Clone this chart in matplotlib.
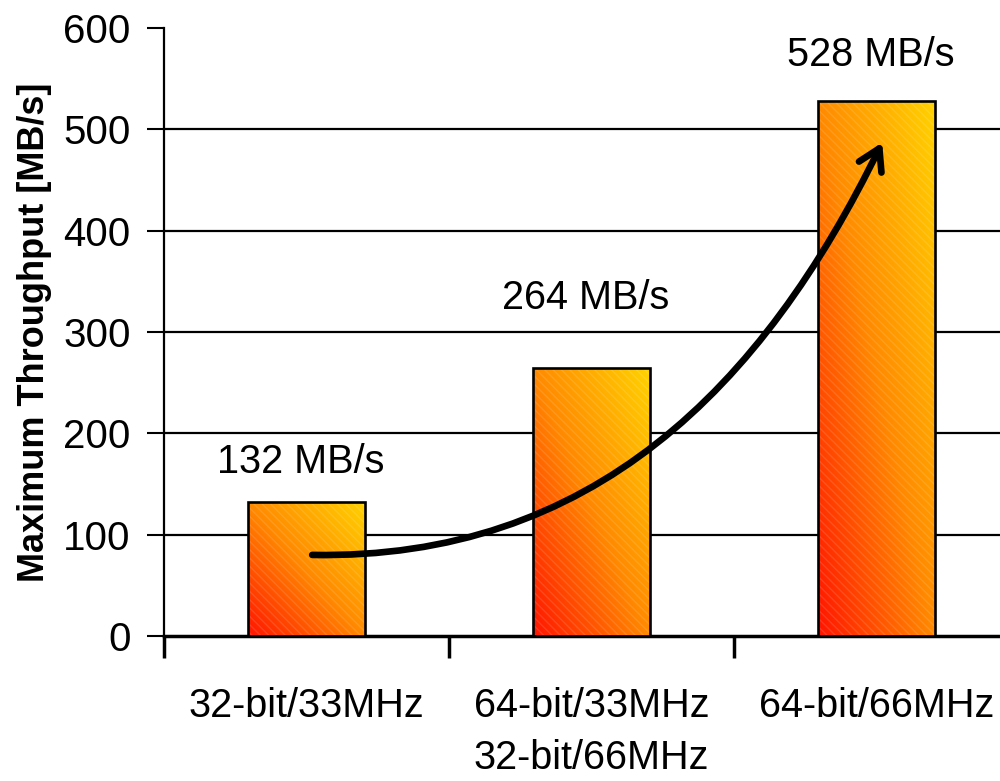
import matplotlib
matplotlib.use("Agg")
import matplotlib.pyplot as plt
import numpy as np
from matplotlib.colors import LinearSegmentedColormap
from matplotlib.patches import Rectangle, FancyArrowPatch
from matplotlib.path import Path

plt.rcParams['font.family'] = ['Liberation Sans', 'DejaVu Sans']

categories = ["32-bit/33MHz", "64-bit/33MHz\n32-bit/66MHz", "64-bit/66MHz"]
values = [132, 264, 528]
value_labels = ["132 MB/s", "264 MB/s", "528 MB/s"]
y_ticks = [0, 100, 200, 300, 400, 500, 600]
y_label = "Maximum Throughput [MB/s]"

fig = plt.figure(figsize=(10, 7.81), dpi=100)
ax = fig.add_axes([0.164, 0.1857, 0.855, 0.7784])

cmap = LinearSegmentedColormap.from_list("grad", ["#FF1400", "#FF8A00", "#FFD200"])
bar_w = 0.41
x = np.arange(len(values))
bars = ax.bar(x, values, width=bar_w, facecolor='none', edgecolor='black',
              linewidth=1.9, zorder=4)

nx, ny = 200, 400
u = np.linspace(0, 1, nx)[None, :]
v = np.linspace(0, 1, ny)[:, None]
grad = (u + v) / 2.0
for b in bars:
    x0, w, h = b.get_x(), b.get_width(), b.get_height()
    im = ax.imshow(grad, cmap=cmap, origin='lower', extent=(x0, x0 + w, 0, h),
                   aspect='auto', zorder=3, interpolation='bilinear')
    clip = Rectangle((x0, 0), w, h, transform=ax.transData)
    im.set_clip_path(clip)
    ax.add_patch(Rectangle((x0, 0), w, h, facecolor='none', edgecolor=(1, 1, 1, 0.12),
                           hatch='\\\\\\\\', linewidth=0, zorder=3.5))

label_offsets = [40, 70, 45]
for xi, val, lab, off in zip(x, values, value_labels, label_offsets):
    ax.text(xi - 0.02, val + off, lab, ha='center', va='center', fontsize=28.5, zorder=6)

# curved arrow
verts = [(0.02, 80), (1.0, 75), (1.6, 245), (2.02, 487)]
codes = [Path.MOVETO, Path.CURVE4, Path.CURVE4, Path.CURVE4]
arrow = FancyArrowPatch(path=Path(verts, codes), arrowstyle='->,head_length=15,head_width=9',
                        linewidth=4.8, color='black', zorder=7, capstyle='round',
                        joinstyle='round', shrinkA=0, shrinkB=0)
ax.add_patch(arrow)

ax.set_xlim(-0.5, 2.5)
ax.set_ylim(0, 600)
ax.set_yticks(y_ticks)
ax.tick_params(axis='y', labelsize=29, length=12, width=1.5, direction='out', pad=12)
for yv in y_ticks[1:-1]:
    ax.axhline(yv, color='black', linewidth=1.6, zorder=1)

ax.set_xticks(x)
ax.set_xticklabels(categories, fontsize=28.5, linespacing=1.45)
ax.tick_params(axis='x', length=0, pad=37)
ax.set_xticks([-0.5, 0.5, 1.5, 2.5], minor=True)
ax.tick_params(axis='x', which='minor', length=16, width=2.5, direction='out')
for lbl in ax.get_xticklabels():
    lbl.set_verticalalignment('top')

for s in ['top', 'right']:
    ax.spines[s].set_visible(False)
ax.spines['left'].set_linewidth(1.6)
ax.spines['bottom'].set_linewidth(2.5)

ax.set_ylabel(y_label, fontsize=26, fontweight='bold', labelpad=8)

fig.savefig("out.png", dpi=100)
